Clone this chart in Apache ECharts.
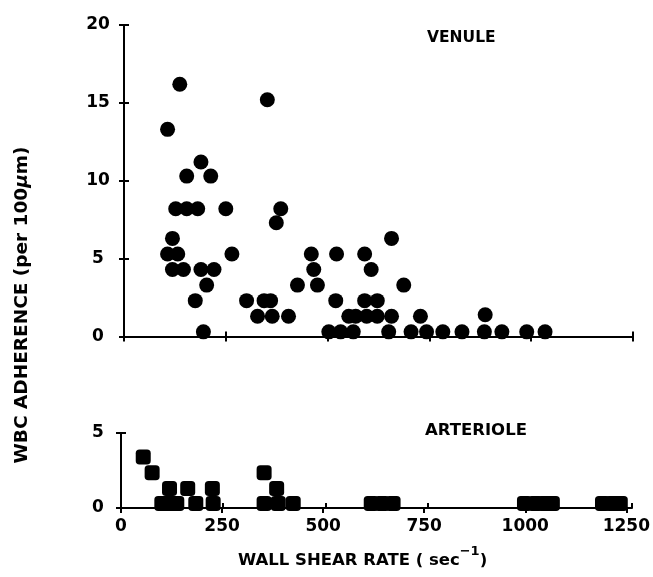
<!DOCTYPE html>
<html>
<head>
<meta charset="utf-8">
<script src="https://cdn.jsdelivr.net/npm/echarts@6/dist/echarts.min.js"></script>
<style>html,body{margin:0;padding:0;background:#fff}#c{width:653px;height:577px}</style>
</head>
<body>
<div id="c"></div>
<script>
// Venule: wall shear rate (sec^-1) and WBC adherence (per 100 µm)
const venuleShear = [137,107,352,189,154,213,127,154,181,250,385,374,119,107,132,265,119,146,189,221,203,175,195,301,344,360,328,364,404,426,460,466,475,522,520,
  552,569,596,622,657,728,887,
  503,532,563,650,705,743,783,830,885,928,989,1034,
  591,607,591,622,657,687];
const venuleAdh = [16.2,13.3,15.2,11.2,10.3,10.3,8.2,8.2,8.2,8.2,8.2,7.3,6.3,5.3,5.3,5.3,4.3,4.3,4.3,4.3,3.3,2.3,0.3,2.3,2.3,2.3,1.3,1.3,1.3,3.3,5.3,4.3,3.3,5.3,2.3,
  1.3,1.3,1.3,1.3,1.3,1.3,1.4,
  0.3,0.3,0.3,0.3,0.3,0.3,0.3,0.3,0.3,0.3,0.3,0.3,
  5.3,4.3,2.3,2.3,6.3,3.3];
// Arteriole
const arterShear = [55,77,120,165,226,354,385,
  101,120,138,185,228,354,389,426,619,646,673,998,1025,1049,1067,1191,1216,1235];
const arterAdh = [3.4,2.35,1.3,1.3,1.3,2.35,1.3,
  0.3,0.3,0.3,0.3,0.3,0.3,0.3,0.3,0.3,0.3,0.3,0.3,0.3,0.3,0.3,0.3,0.3,0.3];
const xTicks = [0,250,500,750,1000,1250];
const venuleYTicks = [0,5,10,15,20];
const arterYTicks = [0,5];

const FONT = 'DejaVu Sans';
const zip = (a,b) => a.map((v,i) => [v,b[i]]);
const line = {show:true, lineStyle:{color:'#000', width:2}};
const lbl = (show, extra) => Object.assign({show:show, color:'#000', fontFamily:FONT, fontWeight:'bold', fontSize:17,
  formatter:(v) => String(v)}, extra||{});
const tick = (inside) => ({show:true, inside:inside, length:5, lineStyle:{color:'#000', width:2}});

function xAx(grid, inside, show) {
  return {type:'value', gridIndex:grid, min:xTicks[0], max:xTicks[xTicks.length-1], interval:250,
    axisLine:line, axisTick:tick(inside), splitLine:{show:false},
    axisLabel:lbl(show, {margin:10})};
}
function yAx(grid, inside, show, ticks) {
  return {type:'value', gridIndex:grid, min:ticks[0], max:ticks[ticks.length-1], interval:5,
    axisLine:line, axisTick:tick(inside), splitLine:{show:false},
    axisLabel:lbl(show, {align:'center', margin:26})};
}

const chart = echarts.init(document.getElementById('c'), null, {renderer:'canvas'});
chart.setOption({
  animation:false,
  backgroundColor:'#fff',
  title:[
    {text:'VENULE', left:422, top:25, textStyle:{fontFamily:FONT, fontWeight:'bold', fontSize:15.5, color:'#000'}},
    {text:'ARTERIOLE', left:420, top:417, textStyle:{fontFamily:FONT, fontWeight:'bold', fontSize:16.5, color:'#000'}}
  ],
  grid:[
    {left:124, right:20, top:25, height:311.5},
    {left:124, right:20, top:25, height:311.5},
    {left:121, right:21, top:433, height:75},
    {left:121, right:21, top:433, height:75}
  ],
  xAxis:[xAx(0,false,false), xAx(1,true,false), xAx(2,false,true), xAx(3,true,false)],
  yAxis:[yAx(0,false,true,venuleYTicks), yAx(1,true,false,venuleYTicks),
         Object.assign(yAx(2,false,true,arterYTicks),{axisLabel:lbl(true,{align:'center', margin:23})}),
         yAx(3,true,false,arterYTicks)],
  series:[
    {type:'scatter', xAxisIndex:0, yAxisIndex:0, data:zip(venuleShear, venuleAdh),
      symbol:'circle', symbolSize:15, itemStyle:{color:'#000', opacity:1}, z:5},
    {type:'scatter', xAxisIndex:2, yAxisIndex:2, data:zip(arterShear, arterAdh),
      symbol:'roundRect', symbolSize:15, itemStyle:{color:'#000', opacity:1}, z:5}
  ],
  graphic:[
    {type:'text', left:238, top:545, style:{
      text:'{a|WALL SHEAR RATE ( sec}{s|−1}{a|)}',
      rich:{
        a:{fontFamily:FONT, fontWeight:'bold', fontSize:16.5, fill:'#000', lineHeight:24, verticalAlign:'bottom'},
        s:{fontFamily:FONT, fontWeight:'bold', fontSize:13, fill:'#000', lineHeight:24, verticalAlign:'top'}
      }}},
    {type:'text', x:22, y:305, rotation:Math.PI/2, style:{
      text:'{a|WBC ADHERENCE (per 100}{i|μ}{a|m)}',
      align:'center', verticalAlign:'middle',
      rich:{
        a:{fontFamily:FONT, fontWeight:'bold', fontSize:18.5, fill:'#000'},
        i:{fontFamily:FONT, fontWeight:'bold', fontStyle:'italic', fontSize:18.5, fill:'#000'}
      }}}
  ]
});
</script>
</body>
</html>
